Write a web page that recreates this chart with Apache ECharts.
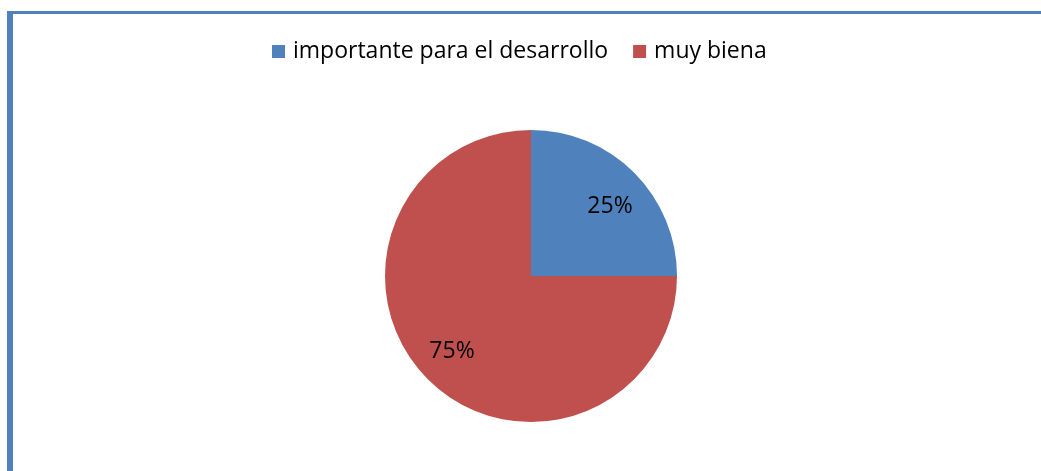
<!DOCTYPE html>
<html><head><meta charset="utf-8">
<script src="https://cdn.jsdelivr.net/npm/echarts@6/dist/echarts.min.js"></script>
<style>html,body{margin:0;padding:0;background:#fff}#c{width:1041px;height:471px}</style>
</head><body><div id="c"></div>
<script>
const categories = ["importante para el desarrollo", "muy biena"];
const values = [25, 75];
const colors = ["#4F81BD", "#C0504D"];

const CX = 531, CY = 276, R = 146;
const chart = echarts.init(document.getElementById('c'));
chart.setOption({
  animation: false,
  backgroundColor: '#fff',
  graphic: [
    { type: 'rect', shape: { x: 7, y: 11, width: 6, height: 460 }, style: { fill: '#4F81BD' } },
    { type: 'rect', shape: { x: 7, y: 11, width: 1034, height: 3 }, style: { fill: '#4F81BD' } }
  ],
  legend: {
    left: 267, top: 35,
    itemWidth: 13, itemHeight: 13, itemGap: 25,
    icon: 'rect',
    textStyle: { fontFamily: 'Open Sans', fontSize: 23, color: '#000', padding: [0, 0, 0, 3] },
    data: categories
  },
  series: [{
    type: 'pie',
    center: [CX, CY],
    radius: [0, R],
    startAngle: 90,
    clockwise: true,
    color: colors,
    label: {
      position: 'inside',
      formatter: p => Math.round(p.percent) + '%',
      fontFamily: 'Open Sans', fontSize: 23, color: '#000'
    },
    labelLayout: function (p) {
      const lx = p.labelRect.x + p.labelRect.width / 2;
      const ly = p.labelRect.y + p.labelRect.height / 2;
      return { dx: (lx - CX) * 0.47, dy: (ly - CY) * 0.353 + 3 };
    },
    labelLine: { show: false },
    itemStyle: { borderWidth: 0 },
    emphasis: { disabled: true },
    data: categories.map((n, i) => ({ name: n, value: values[i] }))
  }]
});
</script></body></html>
